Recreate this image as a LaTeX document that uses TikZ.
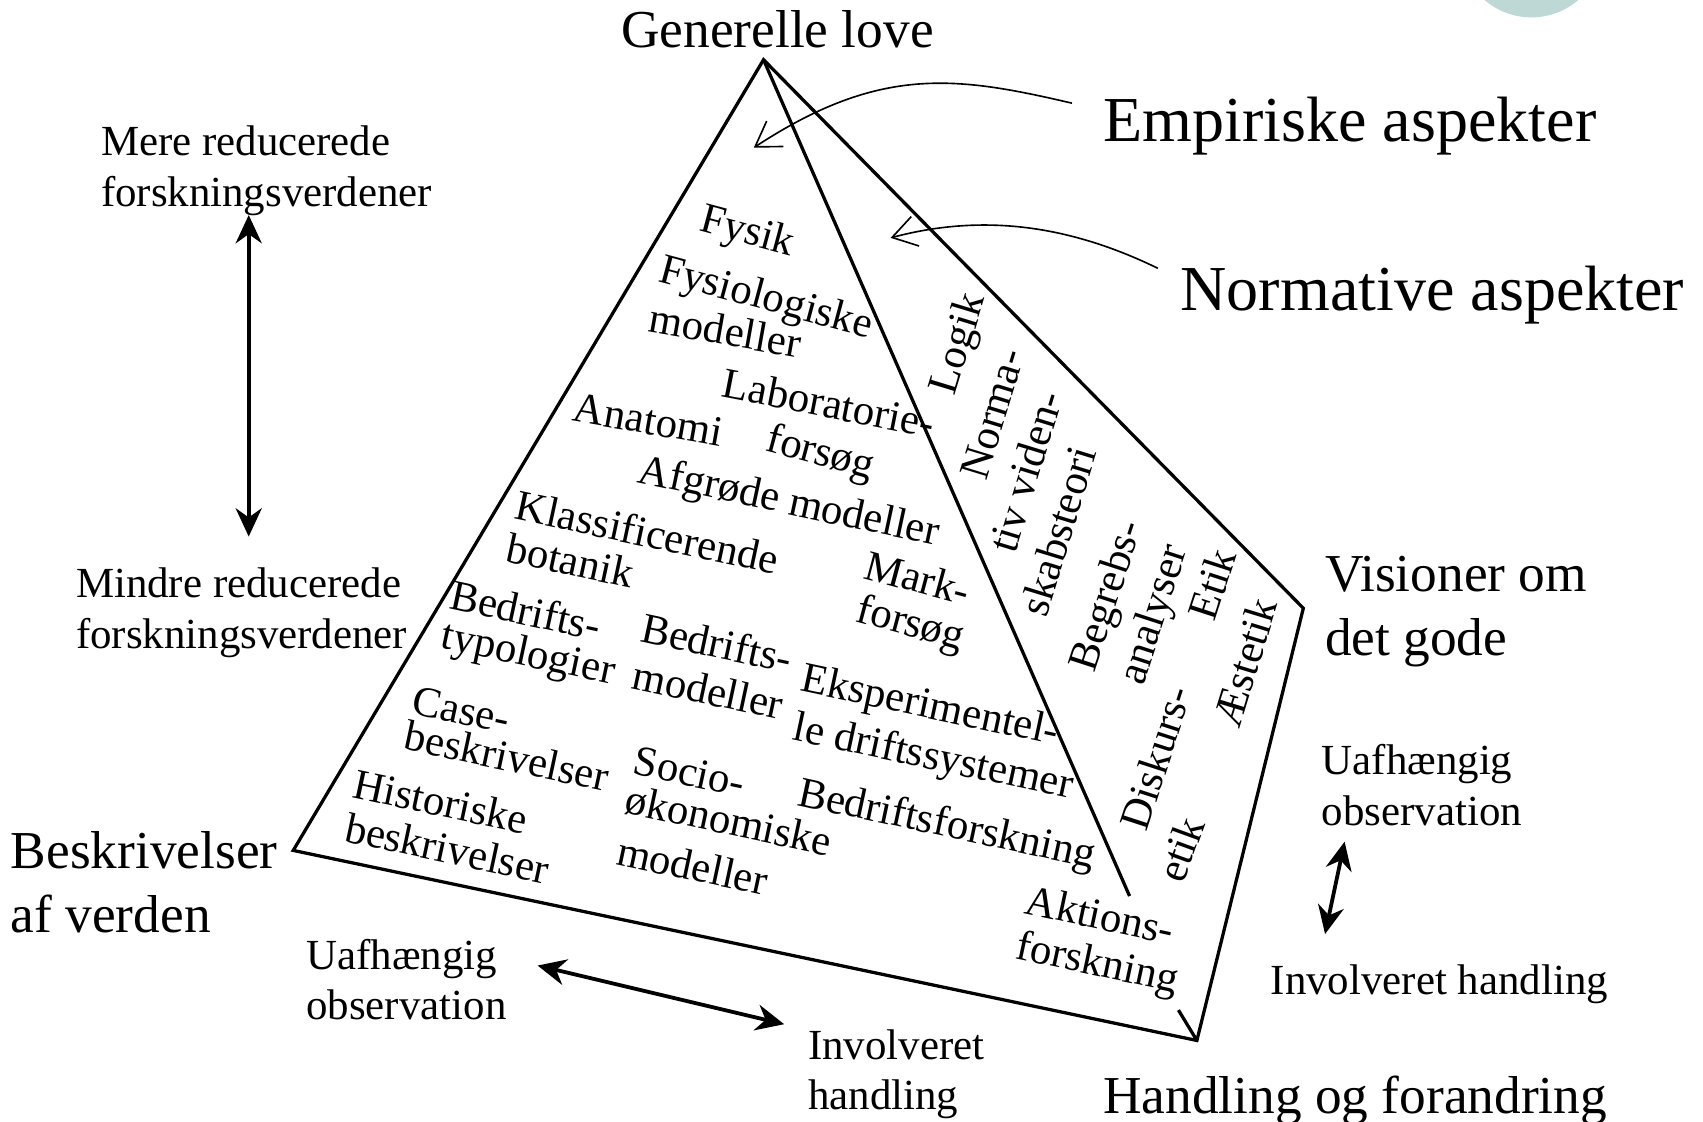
\documentclass[tikz,border=0pt]{standalone}
\usepackage{fontspec}
\setmainfont{Liberation Serif}
\usetikzlibrary{arrows.meta}
\definecolor{deco}{HTML}{BDD8D5}
\newcommand{\fsS}{\fontsize{39.5}{39.5}\selectfont}
\newcommand{\fsM}{\fontsize{49.1}{49.1}\selectfont}
\newcommand{\fsL}{\fontsize{59}{59}\selectfont}
\tikzset{
  every node/.style={inner sep=0pt,outer sep=0pt},
  small/.style={font=\fsS,anchor=west,text height=32pt,text depth=5pt},
  medium/.style={font=\fsM,anchor=west,text height=38pt,text depth=5pt},
  large/.style={font=\fsL,anchor=west,text height=46pt,text depth=6pt},
  tilt/.style={font=\fsS,anchor=center,rotate=#1,text height=32pt,text depth=5pt},
  edge/.style={line width=3pt,line join=miter},
  two/.style={line width=3.5pt,{Stealth[length=26pt,width=24pt]}-{Stealth[length=26pt,width=24pt]}},
  lead/.style={line width=1.5pt,-{Straight Barb[length=22pt,width=28pt,line width=1.5pt]}}
}
\begin{document}
\begin{tikzpicture}[x=1pt,y=-1pt]
\useasboundingbox (0,0) rectangle (1568,1033);
\begin{scope}
\clip (0,0) rectangle (1568,1033);
\fill[deco] (1410,-50) circle (66);
\end{scope}
% corners
\coordinate (apex) at (703,55);
\coordinate (L) at (270,783);
\coordinate (B) at (1102,958);
\coordinate (R) at (1200,560);
\coordinate (M) at (1040,825);
\coordinate (T) at (1085,930);
\draw[edge] (L) -- (apex) -- (R) -- (B) -- cycle;
\draw[edge] (apex) -- (M);
\draw[edge] (T) -- (B);
% plain labels
\node[medium] (gen) at (572,27) {Generelle love};
\node[large] (emp) at (1016,110) {Empiriske aspekter};
\node[large] (nor) at (1087,266) {Normative aspekter};
\node[medium] (vis1) at (1220,528) {Visioner om};
\node[medium] (vis2) at (1220,587) {det gode};
\node[medium] (bes1) at (10,783) {Beskrivelser};
\node[medium] (bes2) at (10,842) {af verden};
\node[medium] (han) at (1016,1009) {Handling og forandring};
\node[small] (mere1) at (93,130) {Mere reducerede};
\node[small] (mere2) at (93,177) {forskningsverdener};
\node[small] (min1) at (70,537) {Mindre reducerede};
\node[small] (min2) at (70,584) {forskningsverdener};
\node[small] (ua1) at (282,879) {Uafhængig};
\node[small] (ob1) at (282,925) {observation};
\node[small] (in1) at (744,962) {Involveret};
\node[small] (in2) at (744,1008) {handling};
\node[small] (ua2) at (1217,700) {Uafhængig};
\node[small] (ob2) at (1217,747) {observation};
\node[small] (in3) at (1170,902) {Involveret handling};
% tilted labels
\node[tilt=-15] (t1) at (689,211) {Fysik};
\node[tilt=-15] (t2) at (706,272) {Fysiologiske};
\node[tilt=-10] (t3) at (668,304) {modeller};
\node[tilt=-11] (t4) at (763,371) {Laboratorie-};
\node[tilt=-15] (t5) at (756,415) {forsøg};
\node[tilt=-10] (t6) at (597,386) {Anatomi};
\node[tilt=-12] (t7) at (727,460) {Afgrøde modeller};
\node[tilt=-12] (t8) at (596,490) {Klassificerende};
\node[tilt=-12] (t9) at (525,516) {botanik};
\node[tilt=-15] (t10) at (845,532) {Mark-};
\node[tilt=-15] (t11) at (839,572) {forsøg};
\node[tilt=-12] (t12) at (484,562) {Bedrifts-};
\node[tilt=-12] (t13) at (487,600) {typologier};
\node[tilt=-12] (t14) at (660,592) {Bedrifts-};
\node[tilt=-12] (t15) at (652,635) {modeller};
\node[tilt=-12] (t16) at (857,648) {Eksperimentel-};
\node[tilt=-12] (t17) at (860,695) {le driftssystemer};
\node[tilt=-12] (t18) at (425,653) {Case-};
\node[tilt=-12] (t19) at (467,696) {beskrivelser};
\node[tilt=-12] (t20) at (635,710) {Socio-};
\node[tilt=-12] (t21) at (671,755) {økonomiske};
\node[tilt=-12] (t22) at (638,797) {modeller};
\node[tilt=-12] (t23) at (872,757) {Bedriftsforskning};
\node[tilt=-12] (t24) at (406,738) {Historiske};
\node[tilt=-12] (t25) at (412,781) {beskrivelser};
\node[tilt=-12] (t26) at (1013,842) {Aktions-};
\node[tilt=-12] (t27) at (1011,885) {forskning};
% steep labels
\node[tilt=73] (s1) at (880,316) {Logik};
\node[tilt=73] (s2) at (913,381) {Norma-};
\node[tilt=73] (s3) at (944,434) {tiv viden-};
\node[tilt=73] (s4) at (974,489) {skabsteori};
\node[tilt=72] (s5) at (1017,548) {Begrebs-};
\node[tilt=72] (s6) at (1060,565) {analyser};
\node[tilt=72] (s7) at (1116,538) {Etik};
\node[tilt=73] (s8) at (1146,610) {Æstetik};
\node[tilt=72] (s9) at (1064,698) {Diskurs-};
\node[tilt=70] (s10) at (1087,782) {etik};
% arrows
\coordinate (a1) at (229,198); \coordinate (a2) at (229,494);
\coordinate (b1) at (495,889); \coordinate (b2) at (722,943);
\coordinate (c1) at (1238,775); \coordinate (c2) at (1220,860);
\draw[two] (a1) -- (a2);
\draw[two] (b1) -- (b2);
\draw[two] (c1) -- (c2);
\coordinate (e1) at (987,95); \coordinate (e2) at (694,136);
\coordinate (f1) at (1066,247); \coordinate (f2) at (820,219);
\draw[lead] (e1) .. controls (880,70) and (810,60) .. (e2);
\draw[lead] (f1) .. controls (990,210) and (910,195) .. (f2);
\end{tikzpicture}
\end{document}
